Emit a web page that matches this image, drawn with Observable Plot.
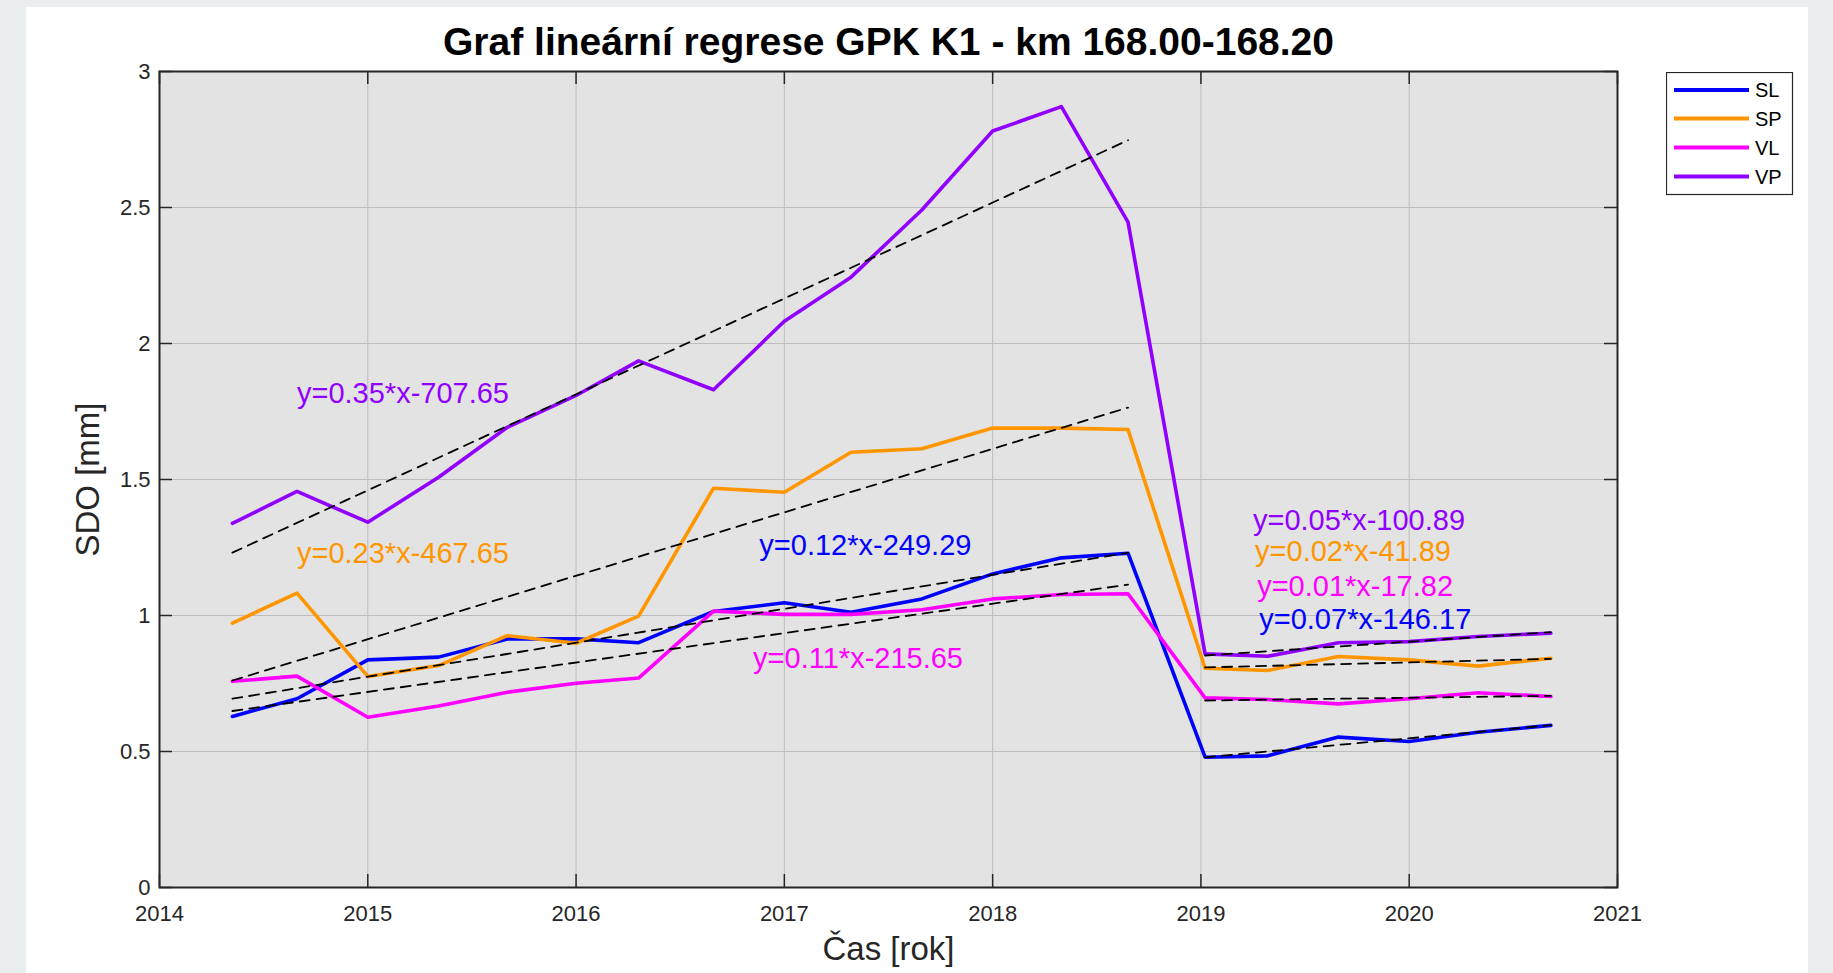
<!DOCTYPE html>
<html><head><meta charset="utf-8">
<script src="https://cdn.jsdelivr.net/npm/d3@7"></script>
<script src="https://cdn.jsdelivr.net/npm/@observablehq/plot@0.6"></script>
<style>
html,body{margin:0;padding:0;background:#e9efee;width:1833px;height:973px;overflow:hidden;font-family:"Liberation Sans",Arial,sans-serif}
#panel{position:absolute;left:26px;top:7px;width:1782px;height:966px;background:#fff}
#chart{position:absolute;left:0;top:0}
#legend{position:absolute;left:1666px;top:72px}
</style></head><body>
<div id="panel"></div><div id="chart"></div><div id="legend"></div>
<script>
// ---- data ----
const seriesNames = ["SL", "SP", "VL", "VP"];
const seriesColors = ["#0000ff", "#ff9600", "#ff00ff", "#9100ff"];
const timesA = [2014.35, 2014.66, 2015.0, 2015.34, 2015.67, 2016.0, 2016.3, 2016.66, 2017.0, 2017.32, 2017.66, 2018.0, 2018.33, 2018.65];
const timesB = [2019.02, 2019.32, 2019.66, 2020.0, 2020.33, 2020.68];
const slValues = [0.629, 0.694, 0.837, 0.847, 0.914, 0.914, 0.900, 1.015, 1.047, 1.012, 1.061, 1.153, 1.212, 1.229, 0.479, 0.484, 0.553, 0.537, 0.571, 0.596];
const spValues = [0.972, 1.082, 0.776, 0.816, 0.926, 0.898, 0.998, 1.468, 1.453, 1.600, 1.613, 1.689, 1.689, 1.684, 0.806, 0.798, 0.849, 0.837, 0.814, 0.843];
const vlValues = [0.758, 0.777, 0.626, 0.667, 0.718, 0.751, 0.770, 1.016, 1.004, 1.004, 1.021, 1.061, 1.077, 1.080, 0.697, 0.691, 0.675, 0.694, 0.716, 0.702];
const vpValues = [1.339, 1.456, 1.343, 1.508, 1.692, 1.809, 1.936, 1.830, 2.082, 2.244, 2.491, 2.781, 2.871, 2.446, 0.859, 0.850, 0.900, 0.904, 0.923, 0.935];
const xTicks = [2014, 2015, 2016, 2017, 2018, 2019, 2020, 2021];
const yTicks = [0, 0.5, 1, 1.5, 2, 2.5, 3];
const eqTexts = ["y=0.35*x-707.65", "y=0.23*x-467.65", "y=0.12*x-249.29", "y=0.11*x-215.65", "y=0.05*x-100.89", "y=0.02*x-41.89", "y=0.01*x-17.82", "y=0.07*x-146.17"];
const eqSeries = ["VP", "SP", "SL", "VL", "VP", "SP", "VL", "SL"];
const eqYear = [2014.66, 2014.66, 2016.88, 2016.85, 2019.25, 2019.26, 2019.27, 2019.28];
const eqValue = [1.816, 1.228, 1.257, 0.842, 1.349, 1.233, 1.104, 0.984];
const titleText = "Graf lineární regrese GPK K1 - km 168.00-168.20";
const xLabel = "Čas [rok]";
const yLabel = "SDO [mm]";

// ---- table ----
const valuesBySeries = {SL: slValues, SP: spValues, VL: vlValues, VP: vpValues};
const times = timesA.concat(timesB);
const rows = [];
for (const s of seriesNames) {
  valuesBySeries[s].forEach((v, i) => rows.push({series: s, seg: i < timesA.length ? "A" : "B", t: times[i], v}));
}
const eqs = eqTexts.map((text, i) => ({text, series: eqSeries[i], t: eqYear[i], v: eqValue[i]}));

const W = 1833, H = 973, mL = 159, mR = 216, mT = 71, mB = 86;
const plotW = W - mL - mR, plotH = H - mT - mB;
const axisColor = "#262626";

const chart = Plot.plot({
  width: W, height: H,
  marginLeft: mL, marginRight: mR, marginTop: mT, marginBottom: mB,
  style: {background: "transparent", fontFamily: "'Liberation Sans', Arial, sans-serif", color: axisColor},
  x: {domain: [2014, 2021], label: null},
  y: {domain: [0, 3], label: null},
  color: {domain: seriesNames, range: seriesColors},
  marks: [
    Plot.frame({fill: "#e3e3e3"}),
    Plot.gridX(xTicks, {stroke: "#bdbdbd", strokeOpacity: 1, strokeWidth: 1}),
    Plot.gridY(yTicks, {stroke: "#bdbdbd", strokeOpacity: 1, strokeWidth: 1}),
    Plot.tickX(xTicks, {x: d => d, insetTop: plotH - 13, stroke: axisColor, strokeWidth: 1.5}),
    Plot.tickX(xTicks, {x: d => d, insetBottom: plotH - 13, stroke: axisColor, strokeWidth: 1.5}),
    Plot.tickY(yTicks, {y: d => d, insetRight: plotW - 13, stroke: axisColor, strokeWidth: 1.5}),
    Plot.tickY(yTicks, {y: d => d, insetLeft: plotW - 13, stroke: axisColor, strokeWidth: 1.5}),
    Plot.line(rows, {x: "t", y: "v", z: "series", stroke: "series", strokeWidth: 3.6, strokeLinejoin: "round"}),
    Plot.linearRegressionY(rows, {x: "t", y: "v", z: d => d.series + d.seg, stroke: "#000", strokeWidth: 1.8, strokeDasharray: "10,7", ci: 0}),
    Plot.text(eqs, {x: "t", y: "v", text: "text", fill: d => d.series, textAnchor: "start", fontSize: 29}),
    Plot.frame({stroke: axisColor, strokeWidth: 2}),
    Plot.axisX(xTicks, {tickSize: 0, tickPadding: 18, fontSize: 22, tickFormat: d => String(d), label: null}),
    Plot.axisY(yTicks, {tickSize: 0, tickPadding: 9, fontSize: 22, tickFormat: d => String(d), label: null}),
    Plot.text([titleText], {text: d => d, frameAnchor: "top", dy: -29, fontSize: 39, fontWeight: "bold", fill: "#000", lineAnchor: "middle", textAnchor: "middle"}),
    Plot.text([xLabel], {text: d => d, frameAnchor: "bottom", dy: 62, fontSize: 33, fill: axisColor, lineAnchor: "middle", textAnchor: "middle"}),
    Plot.text([yLabel], {text: d => d, frameAnchor: "left", dx: -71, rotate: -90, fontSize: 33, fill: axisColor, lineAnchor: "middle", textAnchor: "middle"})
  ]
});
document.getElementById("chart").appendChild(chart);

// ---- legend (line swatches from the chart's color scale) ----
const color = chart.scale("color");
const colorOf = d3.scaleOrdinal(color.domain, color.range);
const lg = d3.select("#legend").append("svg").attr("width", 128).attr("height", 124)
  .style("font-family", "'Liberation Sans', Arial, sans-serif");
lg.append("rect").attr("x", 0.5).attr("y", 0.5).attr("width", 126).attr("height", 122)
  .attr("fill", "#fff").attr("stroke", axisColor).attr("stroke-width", 1.2);
const rowY = [18, 46.5, 75.5, 104.5];
seriesNames.forEach((s, i) => {
  lg.append("line").attr("x1", 8).attr("x2", 83).attr("y1", rowY[i]).attr("y2", rowY[i])
    .attr("stroke", colorOf(s)).attr("stroke-width", 4);
  lg.append("text").attr("x", 89).attr("y", rowY[i]).attr("dy", "0.35em")
    .attr("font-size", 20).attr("fill", "#000").text(s);
});
</script>
</body></html>
